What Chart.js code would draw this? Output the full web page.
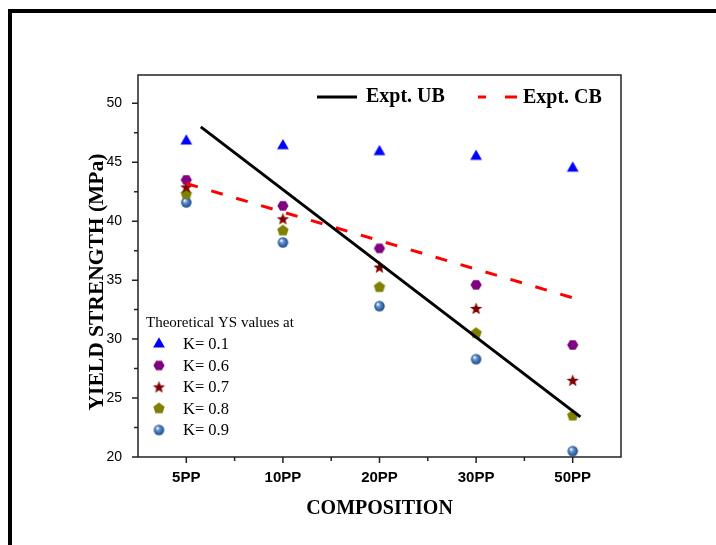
<!DOCTYPE html>
<html>
<head>
<meta charset="utf-8">
<script src="https://cdn.jsdelivr.net/npm/chart.js@4.4.1/dist/chart.umd.min.js"></script>
<style>
  html, body { margin: 0; padding: 0; background: #fff; }
  #wrap { width: 716px; height: 545px; }
</style>
</head>
<body>
<div id="wrap"><canvas id="chart"></canvas></div>
<script>
// values
const categories = ["5PP", "10PP", "20PP", "30PP", "50PP"];
const ysK01 = [46.8, 46.4, 45.9, 45.5, 44.5];
const ysK06 = [43.5, 41.3, 37.7, 34.6, 29.5];
const ysK07 = [42.9, 40.2, 36.1, 32.6, 26.5];
const ysK08 = [42.3, 39.2, 34.4, 30.5, 23.5];
const ysK09 = [41.6, 38.2, 32.8, 28.3, 20.5];
const ubX = [0.15, 4.08];
const ubY = [48.0, 23.4];
const cbX = [0, 4];
const cbY = [43.2, 33.5];
const yTicks = [20, 25, 30, 35, 40, 45, 50];
const kLabels = ["K= 0.1", "K= 0.6", "K= 0.7", "K= 0.8", "K= 0.9"];

const SERIF = "'Liberation Serif', 'Times New Roman', serif";
const SANS = "'Liberation Sans', Arial, sans-serif";

function makeCanvas(w, h) {
  const c = document.createElement("canvas");
  c.width = w;
  c.height = h;
  return c;
}

function polygonMarker(n, r, color, rot) {
  const size = Math.ceil(r * 2 + 2);
  const c = makeCanvas(size, size);
  const g = c.getContext("2d");
  g.fillStyle = color;
  g.beginPath();
  for (let i = 0; i < n; i++) {
    const a = rot + (i * 2 * Math.PI) / n;
    const px = size / 2 + r * Math.cos(a);
    const py = size / 2 + r * Math.sin(a);
    i === 0 ? g.moveTo(px, py) : g.lineTo(px, py);
  }
  g.closePath();
  g.fill();
  return c;
}

function starMarker(r, color) {
  const size = Math.ceil(r * 2 + 2);
  const c = makeCanvas(size, size);
  const g = c.getContext("2d");
  g.fillStyle = color;
  g.beginPath();
  for (let i = 0; i < 10; i++) {
    const rr = i % 2 === 0 ? r : r * 0.42;
    const a = -Math.PI / 2 + (i * Math.PI) / 5;
    const px = size / 2 + rr * Math.cos(a);
    const py = size / 2 + 0.5 + rr * Math.sin(a);
    i === 0 ? g.moveTo(px, py) : g.lineTo(px, py);
  }
  g.closePath();
  g.fill();
  return c;
}

function sphereMarker(r) {
  const size = Math.ceil(r * 2 + 2);
  const c = makeCanvas(size, size);
  const g = c.getContext("2d");
  const cx = size / 2, cy = size / 2;
  const grad = g.createRadialGradient(cx - r * 0.35, cy - r * 0.4, 0.5, cx, cy, r);
  grad.addColorStop(0, "#ffffff");
  grad.addColorStop(0.3, "#6d9ad6");
  grad.addColorStop(0.75, "#2f63a8");
  grad.addColorStop(1, "#1d4580");
  g.fillStyle = grad;
  g.beginPath();
  g.arc(cx, cy, r, 0, Math.PI * 2);
  g.fill();
  return c;
}

const markers = [
  polygonMarker(3, 6.8, "#0000ff", -Math.PI / 2),
  polygonMarker(6, 5.6, "#800080", 0),
  starMarker(6.5, "#800000"),
  polygonMarker(5, 6, "#808000", -Math.PI / 2),
  sphereMarker(5.2),
];

function toPoints(values) {
  return values.map((v, i) => ({ x: i, y: v }));
}

function scatterSet(label, values, marker) {
  return {
    type: "scatter",
    label,
    data: toPoints(values),
    pointStyle: marker,
    pointRadius: 6,
    pointHoverRadius: 6,
  };
}

const decorPlugin = {
  id: "decor",
  beforeDraw(chart) {
    const ctx = chart.ctx;
    ctx.save();
    ctx.fillStyle = "#fff";
    ctx.fillRect(0, 0, chart.width, chart.height);
    ctx.fillStyle = "#000";
    ctx.fillRect(8, 9, chart.width - 8, 4);
    ctx.fillRect(8, 9, 4, chart.height - 9);
    ctx.restore();
  },
  afterDraw(chart) {
    const ctx = chart.ctx;
    const { left, right, top, bottom } = chart.chartArea;
    const xs = chart.scales.x;
    const ys = chart.scales.y;
    ctx.save();

    // plot frame
    ctx.strokeStyle = "#222";
    ctx.lineWidth = 1.5;
    ctx.strokeRect(left, top, right - left, bottom - top);

    // tick marks
    ctx.beginPath();
    categories.forEach((c, i) => {
      const px = xs.getPixelForValue(i);
      ctx.moveTo(px, bottom);
      ctx.lineTo(px, bottom + 6);
      if (i < categories.length - 1) {
        const mx = xs.getPixelForValue(i + 0.5);
        ctx.moveTo(mx, bottom);
        ctx.lineTo(mx, bottom + 4);
      }
    });
    yTicks.forEach((v, i) => {
      const py = ys.getPixelForValue(v);
      ctx.moveTo(left - 6, py);
      ctx.lineTo(left, py);
      if (i < yTicks.length - 1) {
        const my = ys.getPixelForValue(v + 2.5);
        ctx.moveTo(left - 4, my);
        ctx.lineTo(left, my);
      }
    });
    ctx.stroke();

    // axis titles
    ctx.fillStyle = "#000";
    ctx.textAlign = "center";
    ctx.textBaseline = "middle";
    ctx.font = "bold 20px " + SERIF;
    ctx.fillText("COMPOSITION", (left + right) / 2, 509);
    ctx.save();
    ctx.translate(103, 282);
    ctx.rotate(-Math.PI / 2);
    ctx.textBaseline = "alphabetic";
    ctx.font = "bold 21.5px " + SERIF;
    ctx.fillText("YIELD STRENGTH (MPa)", 0, 0);
    ctx.restore();

    // top legend
    ctx.lineWidth = 3;
    ctx.strokeStyle = "#000";
    ctx.beginPath();
    ctx.moveTo(317, 97);
    ctx.lineTo(357, 97);
    ctx.stroke();
    ctx.strokeStyle = "#ff0000";
    ctx.beginPath();
    ctx.moveTo(478, 97);
    ctx.lineTo(486, 97);
    ctx.moveTo(505, 97);
    ctx.lineTo(517, 97);
    ctx.stroke();
    ctx.textAlign = "left";
    ctx.font = "bold 20px " + SERIF;
    ctx.fillText("Expt. UB", 366, 97);
    ctx.fillText("Expt. CB", 523, 98);

    // marker legend
    ctx.font = "15px " + SERIF;
    ctx.fillText("Theoretical YS values at", 146, 323);
    ctx.font = "16.5px " + SERIF;
    kLabels.forEach((lab, i) => {
      const cy = 344 + i * 21.5;
      const m = markers[i];
      ctx.drawImage(m, 159 - m.width / 2, cy - m.height / 2);
      ctx.fillText(lab, 183, cy + 1);
    });

    ctx.restore();
  },
};

new Chart(document.getElementById("chart"), {
  data: {
    datasets: [
      {
        type: "line",
        label: "Expt. UB",
        data: ubX.map((x, i) => ({ x, y: ubY[i] })),
        borderColor: "#000",
        borderWidth: 3,
        pointRadius: 0,
      },
      {
        type: "line",
        label: "Expt. CB",
        data: cbX.map((x, i) => ({ x, y: cbY[i] })),
        borderColor: "#ff0000",
        borderWidth: 3,
        borderDash: [12, 14],
        pointRadius: 0,
      },
      scatterSet("K= 0.1", ysK01, markers[0]),
      scatterSet("K= 0.6", ysK06, markers[1]),
      scatterSet("K= 0.7", ysK07, markers[2]),
      scatterSet("K= 0.8", ysK08, markers[3]),
      scatterSet("K= 0.9", ysK09, markers[4]),
    ],
  },
  plugins: [decorPlugin],
  options: {
    responsive: true,
    maintainAspectRatio: false,
    animation: false,
    layout: { padding: { left: 0, top: 75, right: 95, bottom: 0 } },
    plugins: {
      legend: { display: false },
      tooltip: { enabled: false },
    },
    scales: {
      x: {
        type: "linear",
        min: -0.5,
        max: 4.5,
        afterBuildTicks(scale) {
          scale.ticks = categories.map((c, i) => ({ value: i }));
        },
        afterFit(scale) {
          scale.height = 88;
        },
        grid: { display: false, drawTicks: false },
        border: { display: false },
        ticks: {
          padding: 12,
          color: "#000",
          font: { family: SANS, size: 15, weight: "bold" },
          callback: (v) => categories[v] ?? "",
        },
      },
      y: {
        type: "linear",
        min: 20,
        max: 52.4,
        afterBuildTicks(scale) {
          scale.ticks = yTicks.map((v) => ({ value: v }));
        },
        afterFit(scale) {
          scale.width = 138;
        },
        grid: { display: false, drawTicks: false },
        border: { display: false },
        ticks: {
          padding: 16,
          color: "#000",
          font: { family: SANS, size: 14 },
        },
      },
    },
  },
});
</script>
</body>
</html>
